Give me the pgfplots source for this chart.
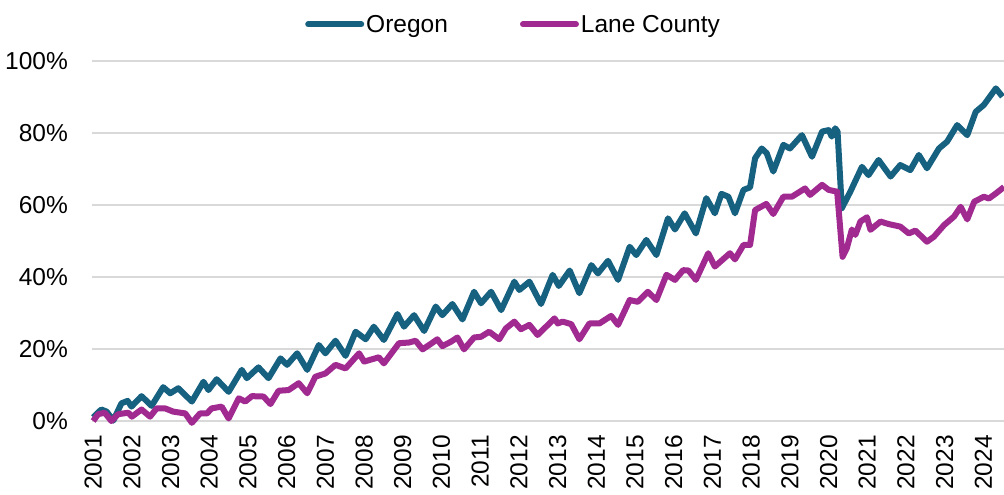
\documentclass[border=0pt]{standalone}
\usepackage{fontspec}
\setmainfont{Liberation Sans}
\usepackage{pgfplots}
\pgfplotsset{compat=1.18}
\definecolor{oregon}{HTML}{166080}
\definecolor{lane}{HTML}{A02A90}
\definecolor{gridgray}{HTML}{D9D9D9}
\begin{document}
\begin{tikzpicture}[font=\fontsize{24.5}{29}\selectfont]
\path[use as bounding box] (0pt,0pt) rectangle (1004pt,495pt);
\begin{axis}[
  at={(92pt,74pt)}, anchor=south west,
  scale only axis, width=912pt, height=360pt,
  xmin=2000.97, xmax=2024.53, ymin=0, ymax=100,
  clip=false,
  axis line style={draw=none},
  major tick length=0pt,
  ymajorgrids, major grid style={line width=1.6pt, gridgray},
  ytick={0,20,40,60,80,100},
  yticklabels={0\%,20\%,40\%,60\%,80\%,100\%},
  yticklabel style={anchor=east, inner sep=0pt, xshift=-24pt},
  xtick={2001,2002,...,2024},
  xticklabels={2001,2002,2003,2004,2005,2006,2007,2008,2009,2010,2011,2012,2013,2014,2015,2016,2017,2018,2019,2020,2021,2022,2023,2024},
  xticklabel style={yshift=-14pt, rotate=90, anchor=east, inner sep=0pt},
  legend columns=2,
  legend style={at={(0.2336,1.102)}, anchor=west, draw=none, fill=none, inner sep=0pt,
    /tikz/every even column/.append style={column sep=70pt}},
  legend image code/.code={\draw[#1, line cap=round] (0pt,0pt) -- (53pt,0pt);},
  every axis plot/.append style={line width=6pt, line join=round},
]
\addplot[oregon] coordinates {
(2001.0,1.0)(2001.21,3.2)(2001.35,2.6)(2001.52,0.1)(2001.73,4.9)(2001.89,5.6)(2001.99,4.0)
(2002.25,6.9)(2002.51,4.2)(2002.81,9.4)(2002.99,7.7)(2003.2,9.1)(2003.55,5.4)(2003.85,10.9)
(2003.98,8.6)(2004.19,11.6)(2004.5,8.1)(2004.84,14.2)(2004.97,11.9)(2005.27,14.9)(2005.53,11.9)
(2005.84,17.4)(2006.01,15.6)(2006.27,18.8)(2006.53,14.2)(2006.83,21.1)(2007.0,18.8)(2007.26,22.3)
(2007.52,18.1)(2007.78,24.8)(2008.04,22.7)(2008.25,26.2)(2008.51,22.5)(2008.86,29.7)(2009.03,26.2)
(2009.29,29.4)(2009.55,25.0)(2009.85,31.8)(2010.02,29.4)(2010.28,32.5)(2010.54,28.2)(2010.84,35.9)
(2011.02,32.7)(2011.28,35.9)(2011.54,30.8)(2011.88,38.7)(2012.01,36.4)(2012.27,38.7)(2012.57,32.5)
(2012.87,40.6)(2013.03,37.5)(2013.31,41.8)(2013.56,35.5)(2013.87,43.3)(2014.04,41.0)(2014.3,44.5)
(2014.56,39.2)(2014.86,48.4)(2015.03,46.1)(2015.29,50.3)(2015.55,46.1)(2015.85,56.3)(2016.03,53.2)
(2016.28,57.7)(2016.57,52.1)(2016.84,61.9)(2017.06,57.7)(2017.23,63.1)(2017.41,62.3)(2017.58,57.7)
(2017.8,64.2)(2017.97,64.9)(2018.1,73.0)(2018.27,75.7)(2018.4,74.4)(2018.57,69.3)(2018.83,76.7)
(2019.0,75.7)(2019.31,79.4)(2019.57,73.4)(2019.83,80.4)(2020.0,80.8)(2020.08,79.0)(2020.17,81.3)
(2020.23,80.4)(2020.34,59.1)(2020.56,63.7)(2020.86,70.6)(2021.03,68.3)(2021.29,72.5)(2021.6,67.9)
(2021.85,71.1)(2022.11,69.7)(2022.33,73.9)(2022.54,70.2)(2022.85,75.7)(2023.06,77.6)(2023.32,82.2)
(2023.58,79.4)(2023.8,85.9)(2024.01,87.8)(2024.32,92.4)(2024.49,90.1)
};
\addlegendentry{Oregon}
\addplot[lane] coordinates {
(2001.0,0.0)(2001.13,1.9)(2001.3,2.3)(2001.47,0.0)(2001.65,1.9)(2001.91,2.3)(2002.0,1.2)
(2002.25,3.2)(2002.47,1.2)(2002.64,3.5)(2002.86,3.5)(2003.07,2.6)(2003.38,2.1)(2003.55,-0.5)
(2003.76,2.1)(2003.94,2.1)(2004.06,3.5)(2004.32,4.0)(2004.5,0.7)(2004.76,6.3)(2004.93,5.4)
(2005.1,6.9)(2005.4,6.8)(2005.58,4.7)(2005.79,8.4)(2006.05,8.6)(2006.31,10.5)(2006.53,7.7)
(2006.74,12.3)(2007.0,13.2)(2007.26,15.6)(2007.52,14.6)(2007.87,18.8)(2008.0,16.5)(2008.38,17.7)
(2008.51,16.0)(2008.9,21.6)(2009.16,21.8)(2009.33,22.3)(2009.51,19.9)(2009.72,21.4)(2009.89,22.7)
(2010.02,20.8)(2010.24,22.0)(2010.41,23.2)(2010.58,19.9)(2010.84,23.2)(2011.02,23.4)(2011.23,24.8)
(2011.49,22.7)(2011.66,25.7)(2011.88,27.6)(2012.05,25.5)(2012.27,26.7)(2012.48,23.9)(2012.7,26.2)
(2012.92,28.5)(2013.0,27.1)(2013.13,27.6)(2013.35,26.9)(2013.56,22.7)(2013.82,27.1)(2014.08,27.1)
(2014.38,29.2)(2014.56,26.7)(2014.86,33.6)(2015.07,33.1)(2015.33,35.9)(2015.55,33.6)(2015.81,40.6)
(2016.03,39.2)(2016.24,41.9)(2016.38,41.8)(2016.57,39.2)(2016.89,46.6)(2017.06,42.9)(2017.45,46.6)
(2017.58,44.9)(2017.8,48.9)(2017.97,48.9)(2018.1,58.6)(2018.39,60.3)(2018.57,57.5)(2018.83,62.3)
(2019.05,62.3)(2019.39,64.6)(2019.52,62.8)(2019.83,65.6)(2020.0,64.2)(2020.22,63.7)(2020.36,45.6)
(2020.47,48.0)(2020.6,53.2)(2020.69,51.7)(2020.82,55.4)(2020.99,56.6)(2021.08,53.1)(2021.34,55.4)
(2021.55,54.7)(2021.85,54.0)(2022.07,52.1)(2022.24,52.9)(2022.54,49.8)(2022.72,51.2)(2022.98,54.4)
(2023.24,56.8)(2023.41,59.5)(2023.58,56.0)(2023.76,60.9)(2024.01,62.3)(2024.14,61.8)(2024.32,63.2)
(2024.53,65.0)
};
\addlegendentry{Lane County}
\end{axis}
\end{tikzpicture}
\end{document}
